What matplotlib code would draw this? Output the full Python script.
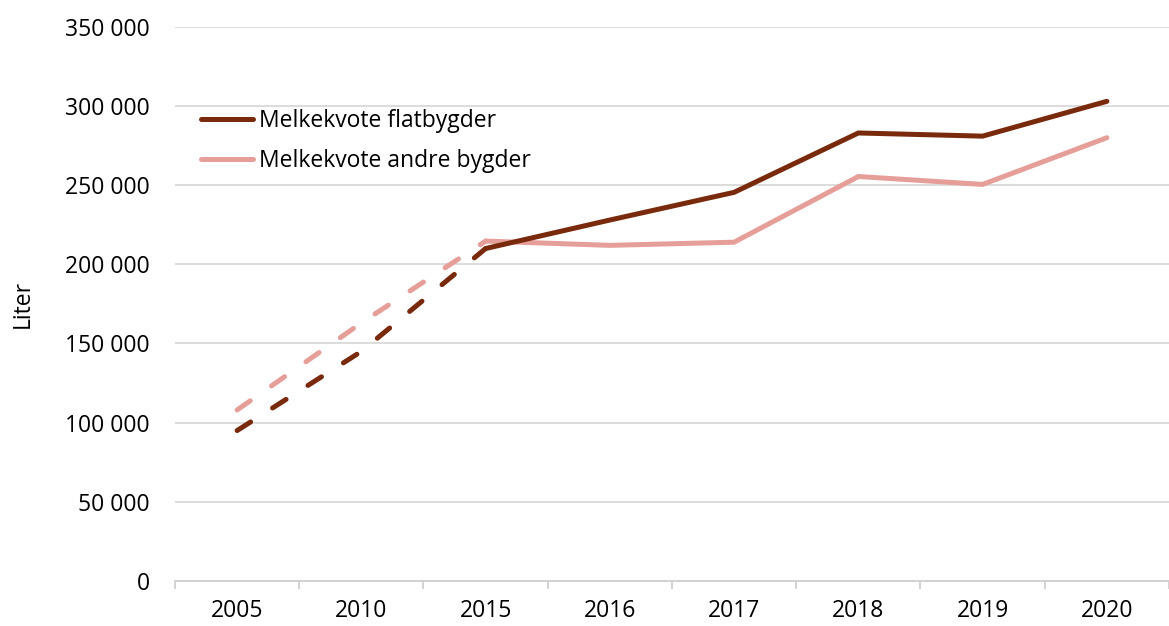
import matplotlib
matplotlib.use("Agg")
import matplotlib.pyplot as plt
from matplotlib.lines import Line2D

years = ["2005", "2010", "2015", "2016", "2017", "2018", "2019", "2020"]
flatbygder = [95000, 145000, 210000, 228000, 245500, 283000, 281000, 303000]
andre_bygder = [108000, 163000, 214700, 212000, 214000, 255500, 250500, 280000]
yticks = [0, 50000, 100000, 150000, 200000, 250000, 300000, 350000]
ytick_labels = ["0", "50 000", "100 000", "150 000", "200 000", "250 000", "300 000", "350 000"]

c_flat = "#7A2A0C"
c_andre = "#E59E98"

plt.rcParams['font.family'] = ['Open Sans', 'DejaVu Sans']
fs = 16.5

fig = plt.figure(figsize=(11.69, 6.26), dpi=100)
ax = fig.add_axes([0.1497, 0.072, 0.8503, 0.885])

x = list(range(len(years)))
lw = 3.6
dash = (3.2, 5.2)
# dashed early part (2005-2015), solid later part
ax.plot(x[:3], andre_bygder[:3], color=c_andre, lw=lw, ls=(0, dash), dash_capstyle='round')
ax.plot(x[:3], flatbygder[:3], color=c_flat, lw=lw, ls=(0, dash), dash_capstyle='round')
ax.plot(x[2:], andre_bygder[2:], color=c_andre, lw=lw, solid_capstyle='round')
ax.plot(x[2:], flatbygder[2:], color=c_flat, lw=lw, solid_capstyle='round')

ax.set_xlim(-0.5, len(years) - 0.5)
ax.set_ylim(0, 350000)
ax.set_yticks(yticks)
ax.set_yticklabels(ytick_labels, fontsize=fs)
ax.set_xticks(x)
ax.set_xticklabels(years, fontsize=fs)
ax.set_xticks([i - 0.5 for i in range(len(years) + 1)], minor=True)

ax.yaxis.grid(True, color="#D9D9D9", lw=1.3)
ax.set_axisbelow(True)
for s in ["top", "right", "left"]:
    ax.spines[s].set_visible(False)
ax.spines["bottom"].set_color("#D0D0D0")
ax.spines["bottom"].set_linewidth(1.3)
ax.tick_params(axis='y', length=0, pad=18)
ax.tick_params(axis='x', which='major', length=0, pad=13)
ax.tick_params(axis='x', which='minor', length=6, color="#D0D0D0", width=1.3)

ax.set_ylabel("Liter", fontsize=fs, labelpad=22)

handles = [Line2D([0], [0], color=c_flat, lw=lw, solid_capstyle='round'),
           Line2D([0], [0], color=c_andre, lw=lw, solid_capstyle='round')]
ax.legend(handles, ["Melkekvote flatbygder", "Melkekvote andre bygder"],
          loc="upper left", bbox_to_anchor=(0.017, 0.868), frameon=False,
          fontsize=fs, handlelength=2.27, handletextpad=0.26, labelspacing=0.67,
          borderaxespad=0)

fig.savefig("out.png", dpi=100)
